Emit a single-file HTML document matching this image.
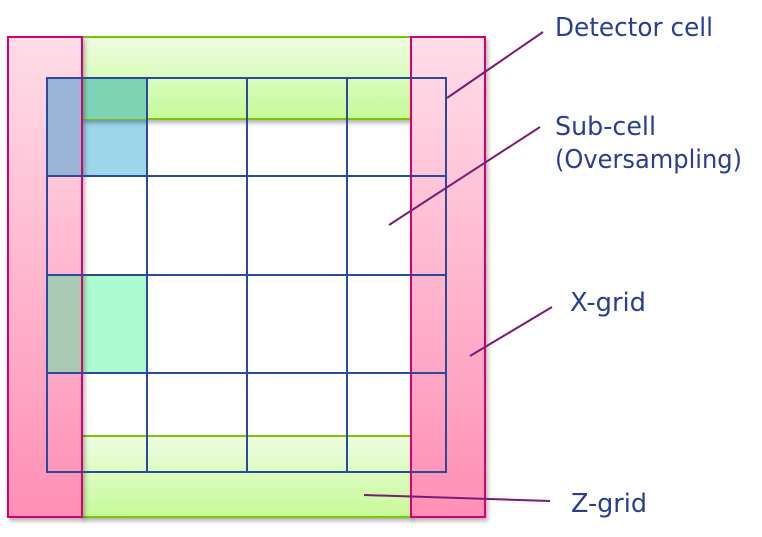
<!DOCTYPE html>
<html><head><meta charset="utf-8"><style>
html,body{margin:0;padding:0;background:#fff;width:762px;height:537px;overflow:hidden}
text{font-family:"DejaVu Sans","Liberation Sans",sans-serif;fill:#2a3f8f;font-size:26px}
</style></head><body>
<svg width="762" height="537" viewBox="0 0 762 537" xmlns="http://www.w3.org/2000/svg">
<defs>
<linearGradient id="gr" x1="0" y1="0" x2="0" y2="1"><stop offset="0" stop-color="#eefde2"/><stop offset="1" stop-color="#c6fa98"/></linearGradient>
<linearGradient id="pk" x1="0" y1="0" x2="0" y2="1"><stop offset="0" stop-color="#ffdde8"/><stop offset="1" stop-color="#ff8fb6"/></linearGradient>
<filter id="sh" x="-10%" y="-10%" width="130%" height="130%"><feDropShadow dx="2" dy="3" stdDeviation="2" flood-color="#000" flood-opacity="0.3"/></filter>
</defs>
<rect x="47" y="78" width="100" height="98" fill="#9dd5ea"/>
<rect x="47" y="275" width="100" height="98" fill="#adfad0"/>
<rect x="82" y="37" width="329" height="82" fill="url(#gr)" stroke="#7cc400" stroke-width="2" filter="url(#sh)"/>
<rect x="82" y="436" width="329" height="81" fill="url(#gr)" stroke="#7cc400" stroke-width="2" filter="url(#sh)"/>
<rect x="82" y="78" width="65" height="41" fill="#7fd4b6"/>
<rect x="8" y="37" width="74" height="480" fill="url(#pk)" stroke="#d8006f" stroke-width="2" filter="url(#sh)"/>
<rect x="411" y="37" width="74" height="480" fill="url(#pk)" stroke="#d8006f" stroke-width="2" filter="url(#sh)"/>
<rect x="48" y="79" width="33" height="96" fill="#9ab5d5"/>
<rect x="48" y="276" width="33" height="96" fill="#a9c9b3"/>
<g stroke="#2a4a9a" stroke-width="2" fill="none">
<rect x="47" y="78" width="399" height="394"/>
<line x1="147" y1="78" x2="147" y2="472"/><line x1="247" y1="78" x2="247" y2="472"/><line x1="347" y1="78" x2="347" y2="472"/>
<line x1="47" y1="176" x2="446" y2="176"/><line x1="47" y1="275" x2="446" y2="275"/><line x1="47" y1="373" x2="446" y2="373"/>
</g>
<g stroke="#7b1a78" stroke-width="2">
<line x1="447" y1="98" x2="543" y2="32"/>
<line x1="389" y1="225" x2="540" y2="127"/>
<line x1="470" y1="356" x2="552" y2="307"/>
<line x1="364" y1="495" x2="550" y2="501"/>
</g>
<text x="555" y="36" textLength="158" lengthAdjust="spacingAndGlyphs">Detector cell</text>
<text x="555" y="135" textLength="101" lengthAdjust="spacingAndGlyphs">Sub-cell</text>
<text x="555" y="168" textLength="187" lengthAdjust="spacingAndGlyphs">(Oversampling)</text>
<text x="570" y="311" textLength="76" lengthAdjust="spacingAndGlyphs">X-grid</text>
<text x="571" y="512" textLength="76" lengthAdjust="spacingAndGlyphs">Z-grid</text>
</svg>
</body></html>
